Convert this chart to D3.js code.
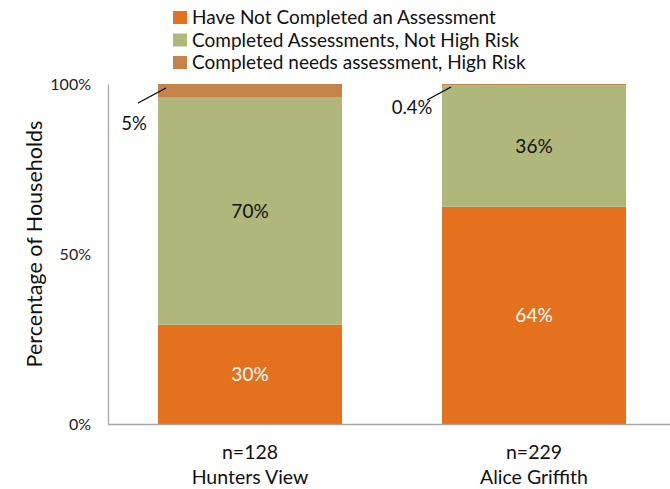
<!DOCTYPE html>
<html><head><meta charset="utf-8">
<script src="https://cdn.jsdelivr.net/npm/d3@7"></script>
<style>body{margin:0;background:#fff}svg{display:block;font-family:Lato,"Open Sans",sans-serif}</style>
</head><body><svg id="c" width="670" height="489"></svg>
<script>
const categories = ["Hunters View", "Alice Griffith"];
const sampleSizes = ["n=128", "n=229"];
const seriesNames = ["Have Not Completed an Assessment", "Completed Assessments, Not High Risk", "Completed needs assessment, High Risk"];
const notCompleted = [29.2, 63.9];
const notHighRisk = [66.8, 35.7];
const highRisk = [4.0, 0.4];
const valueLabels = [["30%", "64%"], ["70%", "36%"], ["5%", "0.4%"]];
const yTicks = [0, 50, 100];
const colors = ["#E3711E", "#B0B77B", "#C5834A"];

const svg = d3.select("#c");
const m = {l:108, r:676, t:84, b:424};
const x = d3.scaleBand().domain(categories).range([m.l, m.r]).paddingInner(100/284).paddingOuter(50/284);
const y = d3.scaleLinear().domain([0,100]).range([m.b, m.t]);

const series = [notCompleted, notHighRisk, highRisk];
const rows = categories.map((c,i)=>{const o={cat:c}; series.forEach((s,k)=>o["s"+k]=s[i]); return o;});
const stack = d3.stack().keys(["s0","s1","s2"])(rows);

stack.forEach((layer,k)=>{
  svg.append("g").selectAll("rect").data(layer).join("rect")
    .attr("x", d=>x(d.data.cat)).attr("width", x.bandwidth())
    .attr("y", d=>y(d[1])).attr("height", d=>y(d[0])-y(d[1]))
    .attr("fill", colors[k]);
});

// axes
const yAxis = d3.axisLeft(y).tickValues(yTicks).tickFormat(d=>d+"%").tickSize(0).tickPadding(17);
const ga = svg.append("g").attr("transform",`translate(${m.l},0)`).call(yAxis);
ga.select(".domain").attr("stroke","#A6A6A6").attr("stroke-width",1.3);
ga.selectAll("text").attr("font-size",16).attr("fill","#222").attr("font-family","Lato,sans-serif");
svg.append("line").attr("x1",m.l).attr("x2",670).attr("y1",y(0)+0.5).attr("y2",y(0)+0.5).attr("stroke","#A6A6A6").attr("stroke-width",1.5);

// category labels
categories.forEach((c,i)=>{
  const cx = x(c)+x.bandwidth()/2;
  svg.append("text").attr("x",cx).attr("y",459).attr("text-anchor","middle").attr("font-size",19.5).attr("fill","#111").text(sampleSizes[i]);
  svg.append("text").attr("x",cx).attr("y",484).attr("text-anchor","middle").attr("font-size",19.5).attr("fill","#111").text(c);
});

// y axis title
svg.append("text").attr("transform","translate(42,244) rotate(-90)").attr("text-anchor","middle")
  .attr("font-size",21.5).attr("fill","#111").text("Percentage of Households");

// inner value labels
stack.slice(0,2).forEach((layer,k)=>{
  layer.forEach((d,i)=>{
    svg.append("text").attr("x", x(d.data.cat)+x.bandwidth()/2).attr("y",(y(d[0])+y(d[1]))/2+7)
      .attr("text-anchor","middle").attr("font-size",19).attr("fill", k===0?"#fff":"#111").text(valueLabels[k][i]);
  });
});

// leaders for high-risk labels
const hr = stack[2];
hr.forEach((d,i)=>{
  const bx = x(d.data.cat), by = y(d[1]);
  const x2 = bx + (i===0?8:9), y2 = by + (i===0?4:3);
  svg.append("line").attr("x1",x2-(i===0?28:24)).attr("y1",y2+(i===0?15:13)).attr("x2",x2).attr("y2",y2).attr("stroke","#000").attr("stroke-width",1.2);
});
svg.append("text").attr("x",x(categories[0])-24).attr("y",130).attr("text-anchor","middle").attr("font-size",18.5).attr("fill","#111").text(valueLabels[2][0]);
svg.append("text").attr("x",x(categories[1])-30).attr("y",114).attr("text-anchor","middle").attr("font-size",18.5).attr("fill","#111").text(valueLabels[2][1]);

// legend
const lg = svg.append("g");
seriesNames.forEach((s,i)=>{
  const yy = 17.5 + i*22.5;
  lg.append("rect").attr("x",173).attr("y",yy-6.5).attr("width",14).attr("height",13).attr("fill",colors[i]);
  lg.append("text").attr("x",192).attr("y",yy+6.5).attr("font-size",19).attr("fill","#111").text(s);
});
</script></body></html>
